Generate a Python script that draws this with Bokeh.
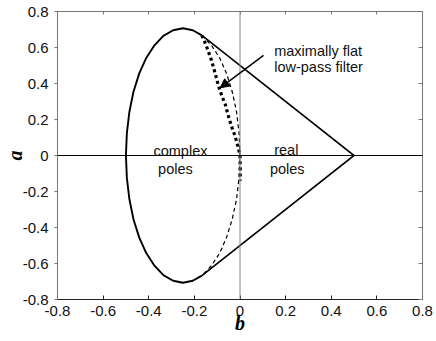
from bokeh.plotting import figure
from bokeh.models import (Range1d, LinearAxis, FixedTicker, Span, Label, Arrow,
                          NormalHead, CustomJSTickFormatter)
from bokeh.embed import file_html
from bokeh.resources import INLINE

# ---- data ----
tick_values = [-0.8, -0.6, -0.4, -0.2, 0, 0.2, 0.4, 0.6, 0.8]
tick_labels = ["-0.8", "-0.6", "-0.4", "-0.2", "0", "0.2", "0.4", "0.6", "0.8"]

# solid left part of the boundary ellipse (b, a)
left_arc_b = [-0.167, -0.207, -0.250, -0.293, -0.336, -0.375, -0.411, -0.442, -0.467, -0.485,
              -0.496, -0.500, -0.496, -0.485, -0.467, -0.442, -0.411, -0.375, -0.336, -0.293,
              -0.250, -0.207, -0.167]
left_arc_a = [0.667, 0.696, 0.707, 0.696, 0.665, 0.612, 0.542, 0.455, 0.354, 0.242,
              0.123, 0.0, -0.123, -0.242, -0.354, -0.455, -0.542, -0.612, -0.665, -0.696,
              -0.707, -0.696, -0.667]

# thin dashed right part of the ellipse
right_arc_b = [-0.167, -0.125, -0.089, -0.059, -0.034, -0.015, -0.004, 0.0,
               -0.004, -0.015, -0.034, -0.059, -0.089, -0.125, -0.167]
right_arc_a = [0.667, 0.612, 0.542, 0.455, 0.354, 0.242, 0.123, 0.0,
               -0.123, -0.242, -0.354, -0.455, -0.542, -0.612, -0.667]

# real-pole boundary (straight lines through b = 0.5)
real_b = [-0.167, 0.5, -0.167]
real_a = [0.667, 0.0, -0.667]

# maximally flat low-pass filter curve (thick dotted)
flat_b = [-0.167, -0.148, -0.128, -0.110, -0.094, -0.079, -0.065, -0.050, -0.035, -0.021,
          -0.007, 0.0, 0.001, 0.001]
flat_a = [0.667, 0.610, 0.540, 0.462, 0.385, 0.330, 0.285, 0.215, 0.155, 0.105,
          0.040, 0.0, -0.070, -0.140]

arrow_start = (0.103, 0.556)
arrow_end = (-0.087, 0.376)

FONT = "Liberation Sans"
SERIF = "Liberation Serif"

p = figure(width=436, height=341, output_backend="svg", toolbar_location=None,
           x_range=Range1d(-0.8, 0.8), y_range=Range1d(-0.8, 0.8),
           x_axis_location=None, y_axis_location=None,
           min_border_left=57, min_border_right=14, min_border_top=11, min_border_bottom=42)
p.grid.visible = False
p.outline_line_color = None
p.background_fill_color = "white"
p.border_fill_color = "white"

overrides = {v: s for v, s in zip(tick_values, tick_labels)}
empty = CustomJSTickFormatter(code="return ''")


def style_axis(ax, tin, tout, color, labels=True, standoff=6):
    ax.ticker = FixedTicker(ticks=tick_values)
    ax.axis_line_color = color
    ax.axis_line_width = 1
    ax.major_tick_line_color = color
    ax.major_tick_in = tin
    ax.major_tick_out = tout
    ax.minor_tick_line_color = None
    if labels:
        ax.major_label_overrides = overrides
        ax.major_label_text_font = FONT
        ax.major_label_text_font_size = "15px"
        ax.major_label_text_color = "#111111"
        ax.major_label_standoff = standoff
        ax.axis_label_text_font = SERIF
        ax.axis_label_text_font_style = "bold italic"
        ax.axis_label_text_font_size = "20px"
        ax.axis_label_text_color = "black"
    else:
        ax.formatter = empty
        ax.major_label_text_font_size = "0px"
        ax.major_label_standoff = 0


bottom = LinearAxis(axis_label="b")
style_axis(bottom, 4, 0, "#222222", standoff=6)
bottom.axis_label_standoff = -7
left = LinearAxis(axis_label="a")
style_axis(left, 0, 3, "#777777", standoff=6)
left.axis_label_standoff = -6
top = LinearAxis()
style_axis(top, 3, 0, "#777777", labels=False)
right = LinearAxis()
style_axis(right, 4, 0, "#777777", labels=False)
p.add_layout(bottom, "below")
p.add_layout(left, "left")
p.add_layout(top, "above")
p.add_layout(right, "right")

# zero lines
p.add_layout(Span(location=0, dimension="height", line_color="#888888", line_width=1))
p.add_layout(Span(location=0, dimension="width", line_color="black", line_width=1))

# curves
p.line(right_arc_b, right_arc_a, line_color="black", line_width=1.2, line_dash="4 3")
p.line(flat_b, flat_a, line_color="black", line_width=3.2, line_dash="3 3")
p.line(left_arc_b, left_arc_a, line_color="black", line_width=1.9, line_join="round")
p.line(real_b, real_a, line_color="black", line_width=1.6, line_join="miter")

p.add_layout(Arrow(end=NormalHead(size=9, fill_color="black", line_color="black"),
                   x_start=arrow_start[0], y_start=arrow_start[1],
                   x_end=arrow_end[0], y_end=arrow_end[1],
                   line_color="black", line_width=1.5))


def lab(x, y, t, align="center", size="14.5px"):
    p.add_layout(Label(x=x, y=y, text=t, text_align=align, text_baseline="alphabetic",
                       text_font=FONT, text_font_size=size, text_color="#111111"))


lab(0.150, 0.583, "maximally flat", align="left")
lab(0.150, 0.494, "low-pass filter", align="left")
lab(-0.261, 0.024, "complex")
lab(-0.283, -0.074, "poles")
lab(0.203, 0.028, "real")
lab(0.207, -0.076, "poles")

open("out.html", "w").write(file_html(p, INLINE))
